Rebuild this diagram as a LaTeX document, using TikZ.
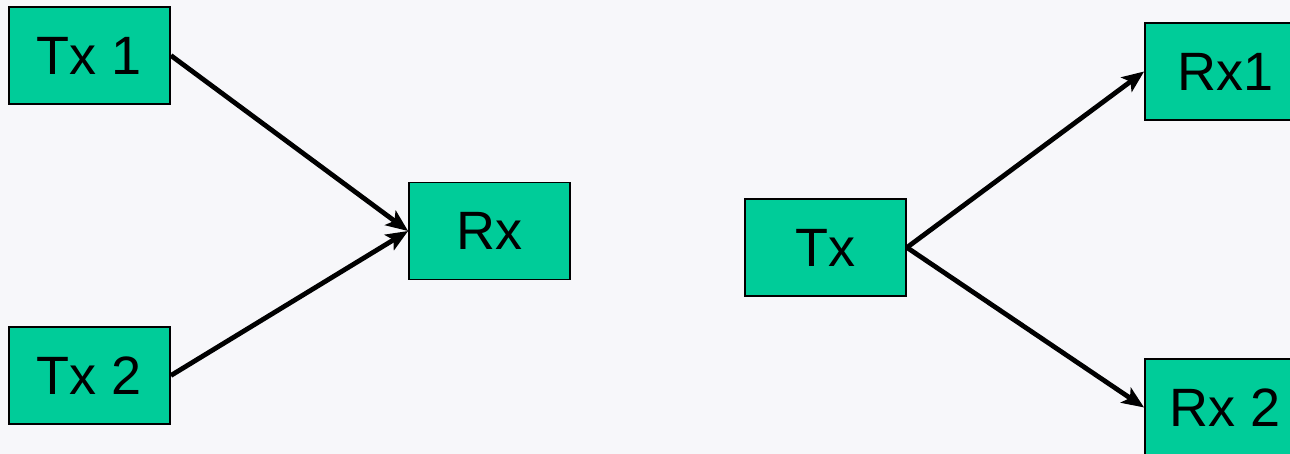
\documentclass[tikz,border=0pt]{standalone}
\usepackage{fontspec}
\setmainfont{Liberation Sans}
\usetikzlibrary{arrows.meta,positioning}
\definecolor{boxgreen}{HTML}{00CC99}
\definecolor{paper}{HTML}{F7F7FA}

\begin{document}
\begin{tikzpicture}[x=0.5pt, y=-0.5pt,
    radio/.style={draw=black, line width=0.9pt, fill=boxgreen, minimum width=80.5pt,
                  minimum height=48.5pt, inner sep=0pt, font=\fontsize{27}{30}\selectfont},
    link/.style={line width=2.4pt, -{Stealth[length=11pt, width=9pt, inset=2.5pt]}}]
    \fill[paper] (0,0) rectangle (1290,454);
    \useasboundingbox (0,0) rectangle (1290,454);

    % two senders, one receiver
    \node[radio] (tx1) at (89.5,55.5) {Tx 1};
    \node[radio] (tx2) at (89.5,375.5) {Tx 2};
    \node[radio] (rx) at (489.5,231) {Rx};
    \draw[link] (tx1.east) -- (rx.west);
    \draw[link] (tx2.east) -- (rx.west);

    % one sender, two receivers
    \node[radio] (tx) at (825.5,247.5) {Tx};
    \node[radio] (rx1) at (1225.5,71.5) {Rx1};
    \node[radio] (rx2) at (1225.5,407.5) {Rx 2};
    \draw[link] (tx.east) -- (rx1.west);
    \draw[link] (tx.east) -- (rx2.west);
\end{tikzpicture}
\end{document}
